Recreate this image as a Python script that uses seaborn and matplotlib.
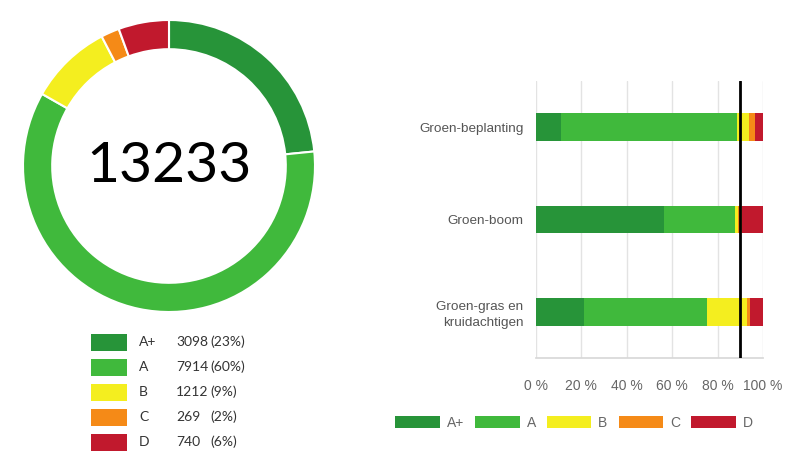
import matplotlib
matplotlib.use("Agg")
import matplotlib.pyplot as plt
from matplotlib.patches import Patch, Rectangle
import numpy as np
import pandas as pd
import seaborn as sns

# --- data -----------------------------------------------------------------
grades = ["A+", "A", "B", "C", "D"]
colors = ["#279439", "#40b93c", "#f4ee1f", "#f58a17", "#c1192d"]

counts = [3098, 7914, 1212, 269, 740]
shares = [23, 60, 9, 2, 6]
total = 13233

categories = ["Groen-beplanting", "Groen-boom", "Groen-gras en\nkruidachtigen"]
pct_aplus = [11.0, 56.5, 21.0]
pct_a = [77.5, 31.0, 54.4]
pct_b = [5.3, 1.7, 17.6]
pct_c = [2.6, 1.5, 1.1]
pct_d = [3.6, 9.3, 5.9]
target = 90
xticks = [0, 20, 40, 60, 80, 100]

sns.set_theme(style="white")
plt.rcParams["font.family"] = ["Liberation Sans", "DejaVu Sans"]

W, H = 797, 457
fig = plt.figure(figsize=(W / 100, H / 100), dpi=100)


def px_axes(left, top, width, height):
    return fig.add_axes([left / W, 1 - (top + height) / H, width / W, height / H])


# --- donut ----------------------------------------------------------------
cx, cy, r = 169, 166, 146
ax_pie = px_axes(cx - r, cy - r, 2 * r, 2 * r)
ax_pie.pie(counts, colors=colors, startangle=90, counterclock=False, radius=1,
           wedgeprops=dict(width=0.2, edgecolor="white", linewidth=1.5))
ax_pie.set_xlim(-1, 1)
ax_pie.set_ylim(-1, 1)
ax_pie.set_aspect("equal")
ax_pie.axis("off")
ax_pie.text(0, 0, str(total), ha="center", va="center", fontsize=41,
            family="Lato", color="black")

# donut legend (pixel-space overlay)
ax_leg = fig.add_axes([0, 0, 1, 1], zorder=-1)
ax_leg.set_xlim(0, W)
ax_leg.set_ylim(H, 0)
ax_leg.axis("off")
for i, (g, c, n, s) in enumerate(zip(grades, colors, counts, shares)):
    y = 342 + 25 * i
    ax_leg.add_patch(Rectangle((91, y - 8.5), 36, 17, color=c, lw=0))
    ax_leg.text(139, y, g, va="center", fontsize=10, family="Lato", color="#333333")
    ax_leg.text(176, y, str(n), va="center", fontsize=10, family="Lato", color="#333333")
    ax_leg.text(210, y, f"({s}%)", va="center", fontsize=10, family="Lato", color="#333333")

# --- stacked bars -----------------------------------------------------------
df = pd.DataFrame({"category": categories, "A+": pct_aplus, "A": pct_a,
                   "B": pct_b, "C": pct_c, "D": pct_d})
cum = df[grades].cumsum(axis=1)

ax = px_axes(536, 81, 227, 277)
for g, c in reversed(list(zip(grades, colors))):
    sns.barplot(x=cum[g], y=df["category"], color=c, orient="h", width=0.3,
                linewidth=0, saturation=1, ax=ax)
ax.axvline(target, color="black", lw=2, zorder=5)

ax.set_xlim(0, 100)
ax.set_ylim(2.5, -0.5)
ax.set_xticks(xticks)
ax.set_xticklabels([f"{t} %" for t in xticks])
ax.set_xlabel("")
ax.set_ylabel("")
ax.grid(axis="x", color="#e3e3e3", lw=1)
ax.set_axisbelow(True)
for side in ["top", "right", "left"]:
    ax.spines[side].set_visible(False)
ax.spines["bottom"].set_color("#d8d8d8")
ax.tick_params(axis="x", length=5, color="#e3e3e3", labelsize=10,
               labelcolor="#666666", pad=10)
ax.tick_params(axis="y", length=0, labelsize=9.7, labelcolor="#555555", pad=9)
for lab in ax.get_yticklabels():
    lab.set_horizontalalignment("right")
    lab.set_multialignment("right")
    lab.set_linespacing(1.45)

handles = [Patch(facecolor=c, edgecolor="none", label=g) for g, c in zip(grades, colors)]
fig.legend(handles=handles, loc="center", bbox_to_anchor=(574 / W, 1 - 423 / H),
           ncol=5, frameon=False, fontsize=10, labelcolor="#666666",
           handlelength=3.2, handleheight=0.95, handletextpad=0.5,
           columnspacing=0.8)

fig.savefig("out.png", dpi=100)
